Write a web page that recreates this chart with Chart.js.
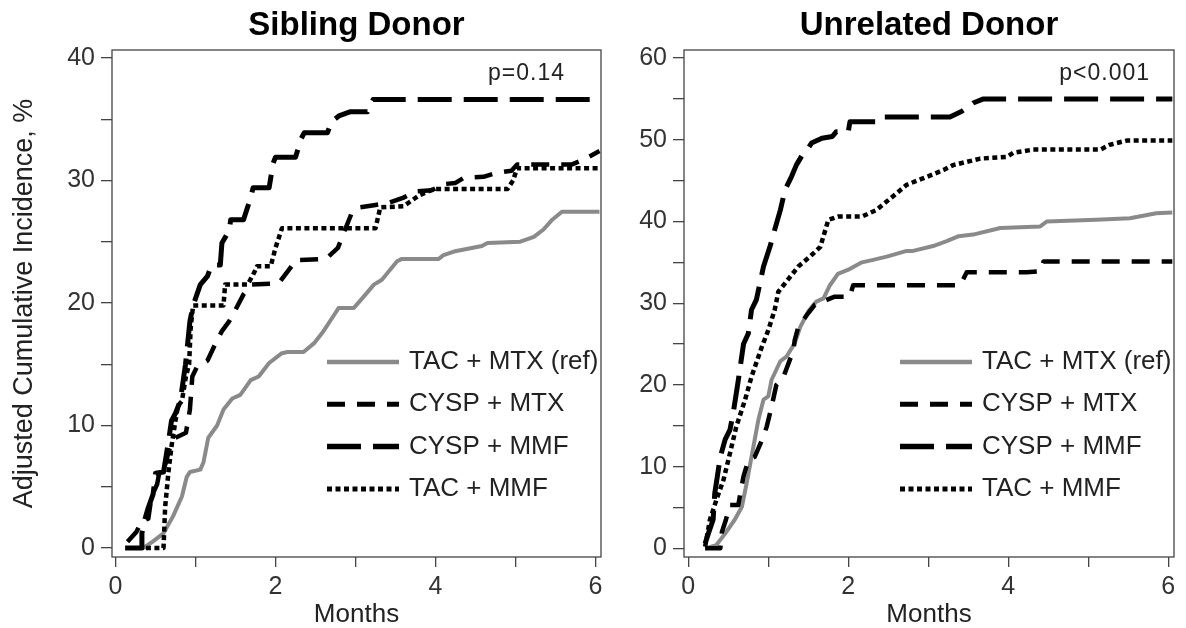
<!DOCTYPE html>
<html lang="en">
<head>
<meta charset="UTF-8">
<title>Adjusted Cumulative Incidence by Donor Type</title>
<script src="https://cdn.jsdelivr.net/npm/chart.js"></script>
<style>
  body { margin: 0; background: #fff; width: 1186px; height: 628px; overflow: hidden; position: relative; }
  canvas { position: absolute; top: 0; }
  #sibChart { left: 0; }
  #unrChart { left: 610px; }
</style>
</head>
<body>
<canvas id="sibChart" width="610" height="628"></canvas>
<canvas id="unrChart" width="576" height="628"></canvas>
<script>
  // legend / series names
  const seriesLabels = ['TAC + MTX (ref)', 'CYSP + MTX', 'CYSP + MMF', 'TAC + MMF'];

  // tick values
  const monthTicks = [0, 1, 2, 3, 4, 5, 6];
  const sibPctTicks = [0, 5, 10, 15, 20, 25, 30, 35, 40];
  const unrPctTicks = [0, 5, 10, 15, 20, 25, 30, 35, 40, 45, 50, 55, 60];

  // Sibling donor curves, [months, %]
  const sibTacMtx = [[0.35,0],[0.46,0.5],[0.6,1.2],[0.72,2.6],[0.83,4.2],[0.89,5.8],[0.93,6.2],[1.06,6.4],[1.1,7],[1.16,9.0],[1.27,10.0],
    [1.35,11.3],[1.46,12.2],[1.56,12.5],[1.69,13.7],[1.79,14.0],[1.92,15.1],[2.08,15.9],[2.15,16.0],[2.35,16.0],[2.48,16.7],
    [2.6,17.7],[2.73,19.0],[2.79,19.6],[2.98,19.6],[3.1,20.5],[3.23,21.5],[3.33,21.9],[3.52,23.4],[3.58,23.6],[4.04,23.6],
    [4.1,23.9],[4.23,24.2],[4.58,24.65],[4.65,24.9],[5.06,25.0],[5.23,25.4],[5.35,26.0],[5.46,26.8],[5.58,27.45],[6.05,27.45]];
  const sibCyspMtx = [[0.15,0.5],[0.26,1.3],[0.33,2.2],[0.41,2.4],[0.45,4.2],[0.52,5.2],[0.56,6.6],[0.62,6.8],[0.68,8.2],
    [0.75,9],[0.88,9.4],[0.93,11.3],[0.96,14],[1.02,14.8],[1.15,15.3],[1.25,16.7],[1.33,17.7],[1.42,18.5],[1.48,19.2],
    [1.6,20.7],[1.7,21.5],[2.04,21.6],[2.2,23],[2.25,23.5],[2.63,23.6],[2.78,24.5],[2.87,26],[2.95,27.3],[3.05,27.8],
    [3.25,28],[3.43,28.2],[3.6,28.6],[3.75,29.1],[3.95,29.2],[4.1,29.7],[4.25,29.8],[4.35,30.2],[4.6,30.3],[4.75,30.6],
    [4.95,30.8],[5.02,31.3],[5.7,31.3],[5.85,31.7],[6.05,32.4]];
  const sibCyspMmf = [[0.12,0],[0.33,0],[0.33,1.2],[0.36,2.2],[0.41,3.3],[0.47,4.4],[0.5,6.1],[0.6,6.2],[0.66,8.6],[0.7,10.4],
    [0.75,11],[0.81,12],[0.875,15],[0.93,18.5],[0.97,19.8],[1.06,21.5],[1.15,22.2],[1.2,23.1],[1.31,23.1],[1.33,24.9],
    [1.42,25.9],[1.44,26.8],[1.6,26.8],[1.68,28.4],[1.72,29.4],[1.92,29.4],[1.97,31.4],[2.0,31.9],[2.25,31.9],[2.32,33.4],
    [2.36,33.9],[2.65,33.9],[2.7,34.8],[2.8,35.3],[2.93,35.6],[3.15,35.6],[3.22,36.6],[6.05,36.6]];
  const sibTacMmf = [[0.38,0],[0.6,0],[0.62,3.3],[0.66,6.1],[0.7,8.3],[0.74,10],[0.78,11.6],[0.83,12],[0.88,14],[0.92,15],
    [0.94,18],[0.97,19.8],[1.35,19.8],[1.37,21.5],[1.65,21.5],[1.72,22.3],[1.77,23],[1.94,23],[2.0,24.5],[2.08,26.1],
    [3.25,26.1],[3.31,27.8],[3.6,27.9],[3.8,28.8],[3.98,29.3],[4.9,29.3],[4.97,30],[5.02,31.0],[6.05,31.0]];

  // Unrelated donor curves, [months, %]
  const unrTacMtx = [[0.21,0],[0.35,0.4],[0.46,1.8],[0.58,3.5],[0.67,5.1],[0.73,8],[0.79,11.2],[0.875,15.7],[0.94,18.2],
    [1.0,18.6],[1.04,20.6],[1.15,22.9],[1.23,23.5],[1.33,25.1],[1.4,27.1],[1.5,29],[1.6,30.2],[1.69,30.6],[1.77,32.2],
    [1.87,33.6],[2.0,34.1],[2.17,35],[2.31,35.3],[2.48,35.7],[2.73,36.4],[2.81,36.4],[3.06,37],[3.23,37.6],[3.38,38.2],
    [3.56,38.4],[3.9,39.2],[4.4,39.4],[4.48,40.0],[5.1,40.2],[5.52,40.4],[5.85,41.0],[6.05,41.1]];
  const unrCyspMtx = [[0.21,0],[0.4,0],[0.42,2],[0.47,3.5],[0.52,5.3],[0.625,5.3],[0.65,6.7],[0.69,8.8],[0.75,10.8],
    [0.83,11.2],[0.94,13.7],[0.98,14.9],[1.02,16.5],[1.06,18.2],[1.1,20],[1.19,21],[1.27,23.1],[1.31,23.9],[1.33,25.5],
    [1.375,27.1],[1.5,28.8],[1.58,29.8],[1.73,30.4],[1.83,30.8],[2.02,30.8],[2.06,32.2],[3.4,32.2],[3.48,33.8],
    [4.23,33.8],[4.4,33.9],[4.44,35.1],[6.05,35.1]];
  const unrCyspMmf = [[0.21,0.6],[0.25,1.8],[0.31,3.5],[0.33,6.7],[0.4,11.2],[0.46,13.3],[0.52,14.5],[0.56,16.5],[0.6,19],
    [0.625,20.6],[0.69,25],[0.75,26.3],[0.79,29.2],[0.85,30.4],[0.94,34.5],[1.02,36.9],[1.08,39],[1.15,41.4],[1.21,43.9],
    [1.25,44.7],[1.29,45.5],[1.35,46.9],[1.44,48.4],[1.5,49],[1.54,49.6],[1.67,50.2],[1.8,50.4],[1.85,51],[2.0,51],
    [2.02,52.2],[2.35,52.2],[2.4,52.8],[3.27,52.8],[3.42,53.5],[3.48,53.9],[3.56,54.5],[3.69,55],[6.05,55]];
  const unrTacMmf = [[0.21,0.2],[0.27,3.5],[0.35,5.9],[0.44,8.4],[0.52,11.6],[0.6,14.9],[0.71,18.2],[0.79,21],[0.92,24.7],
    [1.0,26.7],[1.08,29.2],[1.125,31.4],[1.19,32.2],[1.375,34.5],[1.52,35.7],[1.65,36.9],[1.75,40.2],[1.87,40.6],
    [2.17,40.6],[2.35,41.4],[2.56,43.1],[2.73,44.5],[2.94,45.3],[3.19,46.3],[3.31,46.9],[3.65,47.7],[3.98,47.9],
    [4.06,48.4],[4.31,48.8],[5.15,48.8],[5.27,49.4],[5.48,49.9],[6.05,49.9]];

  // line look for each series (same order as seriesLabels)
  const seriesStyles = [
    { color: '#8a8a8a', width: 4,   dash: [],        order: 1 },
    { color: '#000',    width: 4.5, dash: [18, 12],  order: 0 },
    { color: '#000',    width: 5,   dash: [34, 12],  order: 0 },
    { color: '#000',    width: 4.5, dash: [5, 3.5],  order: 0 }
  ];

  const FONT = '"Liberation Sans", Arial, Helvetica, sans-serif';
  Chart.defaults.font.family = FONT;
  Chart.defaults.color = '#222';

  // frame, p-value and in-plot legend
  const panelDecor = {
    id: 'panelDecor',
    afterDatasetsDraw(chart, args, opts) {
      const { ctx, chartArea: a } = chart;
      ctx.save();
      ctx.strokeStyle = '#444';
      ctx.lineWidth = 1.3;
      ctx.strokeRect(a.left, a.top, a.right - a.left, a.bottom - a.top);

      ctx.fillStyle = '#222';
      ctx.font = '23px ' + FONT;
      ctx.letterSpacing = '1px';
      ctx.textAlign = 'right';
      ctx.textBaseline = 'alphabetic';
      ctx.fillText(opts.pText, a.right - opts.pInset, a.top + 30);
      ctx.letterSpacing = '0px';

      ctx.font = '26px ' + FONT;
      ctx.textAlign = 'left';
      ctx.textBaseline = 'middle';
      chart.data.datasets.forEach((ds, i) => {
        const y = a.top + 312 + i * 42.3;
        const x0 = a.right - 274, x1 = x0 + 72;
        ctx.beginPath();
        ctx.setLineDash(ds.borderDash);
        ctx.lineWidth = ds.borderWidth + 0.5;
        ctx.strokeStyle = ds.borderColor;
        ctx.moveTo(x0, y);
        ctx.lineTo(x1, y);
        ctx.stroke();
        ctx.setLineDash([]);
        ctx.fillText(ds.label, x1 + 10, y);
      });
      ctx.restore();
    }
  };

  function makePanel(id, cfg) {
    const datasets = cfg.series.map((pts, i) => ({
      label: seriesLabels[i],
      data: pts.map(p => ({ x: p[0], y: p[1] })),
      borderColor: seriesStyles[i].color,
      borderWidth: seriesStyles[i].width,
      borderDash: seriesStyles[i].dash,
      borderJoinStyle: 'round',
      order: seriesStyles[i].order,
      pointRadius: 0,
      tension: 0,
      fill: false
    }));

    return new Chart(document.getElementById(id), {
      type: 'line',
      data: { datasets },
      options: {
        responsive: false,
        animation: false,
        devicePixelRatio: 1,
        layout: { padding: { left: 0, top: 0, right: cfg.padRight, bottom: 0 } },
        plugins: {
          legend: { display: false },
          tooltip: { enabled: false },
          title: {
            display: true,
            text: cfg.title,
            fullSize: false,
            color: '#000',
            font: { size: 33, weight: 'bold', lineHeight: 1.2 },
            padding: { top: 6, bottom: 4.4 }
          },
          panelDecor: { pText: cfg.pText, pInset: cfg.pInset }
        },
        scales: {
          x: {
            type: 'linear',
            min: cfg.xMin,
            max: cfg.xMax,
            afterBuildTicks: s => { s.ticks = monthTicks.map(v => ({ value: v })); },
            afterFit: s => { s.height = 71; },
            border: { display: false },
            grid: { drawOnChartArea: false, drawTicks: true, tickLength: 10, color: '#444', lineWidth: 1.3 },
            ticks: {
              autoSkip: false, maxRotation: 0, padding: 5, color: '#333',
              font: { size: 25 },
              callback: v => (v % 2 === 0 ? String(v) : '')
            },
            title: { display: true, text: 'Months', color: '#222', font: { size: 26, lineHeight: 1 }, padding: 0 }
          },
          y: {
            type: 'linear',
            min: cfg.yMin,
            max: cfg.yMax,
            afterBuildTicks: s => { s.ticks = cfg.yTicks.map(v => ({ value: v })); },
            afterFit: s => { s.width = cfg.axisWidth; },
            border: { display: false },
            grid: { drawOnChartArea: false, drawTicks: true, tickLength: 11, color: '#444', lineWidth: 1.3 },
            ticks: {
              autoSkip: false, padding: 6, color: '#333',
              font: { size: 25 },
              callback: v => (v % 10 === 0 ? String(v) : '')
            },
            title: {
              display: cfg.yTitle !== '',
              text: cfg.yTitle,
              color: '#222',
              font: { size: 27, lineHeight: 1.2 },
              padding: { top: 8, bottom: 0 }
            }
          }
        }
      },
      plugins: [panelDecor]
    });
  }

  makePanel('sibChart', {
    title: 'Sibling Donor',
    series: [sibTacMtx, sibCyspMtx, sibCyspMmf, sibTacMmf],
    yTicks: sibPctTicks,
    yMin: -0.735, yMax: 40.65,
    xMin: -0.044, xMax: 6.069,
    yTitle: 'Adjusted Cumulative Incidence, %',
    axisWidth: 112,
    padRight: 9,
    pText: 'p=0.14',
    pInset: 36
  });

  makePanel('unrChart', {
    title: 'Unrelated Donor',
    series: [unrTacMtx, unrCyspMtx, unrCyspMmf, unrTacMmf],
    yTicks: unrPctTicks,
    yMin: -1.06, yMax: 60.99,
    xMin: -0.054, xMax: 6.071,
    yTitle: '',
    axisWidth: 74,
    padRight: 12,
    pText: 'p<0.001',
    pInset: 24
  });
</script>
</body>
</html>
